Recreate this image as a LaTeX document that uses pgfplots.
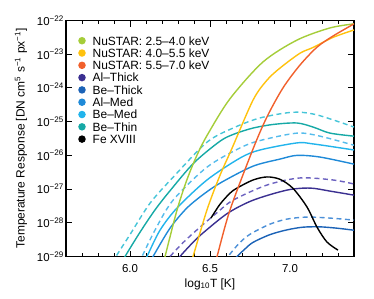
\documentclass[border=0pt]{standalone}
\usepackage{fontspec}
\setmainfont{Liberation Sans}
\usepackage{pgfplots}
\pgfplotsset{compat=1.18}
\definecolor{cA}{HTML}{A5CD39}
\definecolor{cB}{HTML}{FFC20E}
\definecolor{cC}{HTML}{F1602C}
\definecolor{cAlThick}{HTML}{3B3091}
\definecolor{cBeThick}{HTML}{1C63B7}
\definecolor{cAlMed}{HTML}{1F8AD8}
\definecolor{cBeMed}{HTML}{22B4EC}
\definecolor{cBeThin}{HTML}{16A9A6}
\definecolor{dBeThin}{HTML}{45C5D8}
\definecolor{dBeMed}{HTML}{55BCEC}
\definecolor{dAlThick}{HTML}{6C62C0}
\definecolor{dBeThick}{HTML}{4C90D8}
\begin{document}
\begin{tikzpicture}
\path[use as bounding box] (-66bp,-42.5bp) rectangle (308bp,256.5bp);
\begin{axis}[
  at={(0,0)}, anchor=south west,
  scale only axis, width=288bp, height=236bp,
  xmin=5.6, xmax=7.4, ymin=1e-29, ymax=1e-22,
  ymode=log,
  axis line style={line width=1.3bp},
  xtick={6.0,6.5,7.0}, xticklabels={6.0,6.5,7.0},
  minor xtick={5.7,5.8,5.9,6.1,6.2,6.3,6.4,6.6,6.7,6.8,6.9,7.1,7.2,7.3},
  ytick={1e-29,1e-28,1e-27,1e-26,1e-25,1e-24,1e-23,1e-22},
  yticklabels={10\textsuperscript{−29},10\textsuperscript{−28},10\textsuperscript{−27},10\textsuperscript{−26},10\textsuperscript{−25},10\textsuperscript{−24},10\textsuperscript{−23},10\textsuperscript{−22}},
  yminorticks=false,
  tick align=inside,
  major tick length=6bp, minor tick length=3.5bp,
  every tick/.style={black, line width=0.9bp},
  ticklabel style={font=\fontsize{11.5}{13}\selectfont},
  xticklabel shift=4.5bp,
  yticklabel shift=-1.3bp,
  every axis x label/.style={at={(axis description cs:0.5,-0.1165)}, anchor=center, font=\fontsize{12}{14}\selectfont},
  every axis y label/.style={at={(axis description cs:-0.15625,0.5)}, rotate=90, anchor=center, font=\fontsize{12}{14}\selectfont},
  xlabel={log\textsubscript{10}T [K]},
  ylabel={Temperature Response [DN cm\textsuperscript{5} s\textsuperscript{−1} px\textsuperscript{−1}]},
  legend style={draw=none, fill=none, at={(0,1)}, anchor=north west, xshift=12.3bp, yshift=-15.9bp,
    inner sep=0pt, outer sep=0pt, row sep=1.3bp, column sep=7bp,
    font=\fontsize{12}{12}\selectfont,
    nodes={inner sep=0pt, text height=8.6bp, text depth=2.4bp}},
  legend cell align=left,
  every axis plot/.append style={line width=1.4bp},
]
\addlegendimage{legend image code/.code={\fill[cA] (3bp,1.2bp) circle (3bp);}}
\addlegendentry{NuSTAR: 2.5--4.0 keV}
\addlegendimage{legend image code/.code={\fill[cB] (3bp,1.2bp) circle (3bp);}}
\addlegendentry{NuSTAR: 4.0--5.5 keV}
\addlegendimage{legend image code/.code={\fill[cC] (3bp,1.2bp) circle (3bp);}}
\addlegendentry{NuSTAR: 5.5--7.0 keV}
\addlegendimage{legend image code/.code={\fill[cAlThick] (3bp,1.2bp) circle (3bp);}}
\addlegendentry{Al--Thick}
\addlegendimage{legend image code/.code={\fill[cBeThick] (3bp,1.2bp) circle (3bp);}}
\addlegendentry{Be--Thick}
\addlegendimage{legend image code/.code={\fill[cAlMed] (3bp,1.2bp) circle (3bp);}}
\addlegendentry{Al--Med}
\addlegendimage{legend image code/.code={\fill[cBeMed] (3bp,1.2bp) circle (3bp);}}
\addlegendentry{Be--Med}
\addlegendimage{legend image code/.code={\fill[cBeThin] (3bp,1.2bp) circle (3bp);}}
\addlegendentry{Be--Thin}
\addlegendimage{legend image code/.code={\fill[black] (3bp,1.2bp) circle (3bp);}}
\addlegendentry{Fe XVIII}

% Be-Thin dashed
\addplot[dBeThin, smooth, dash pattern=on 5bp off 3.5bp, forget plot] coordinates {
(5.895,6.310e-30) (5.9125,1e-29) (6.0,4.467e-29) (6.125,3.802e-28) (6.269,2.239e-27)
(6.481,2.455e-26) (6.644,6.457e-26) (6.8125,1.288e-25) (7.019,1.905e-25) (7.169,1.585e-25) (7.40,6.918e-26)};
% Be-Thin solid
\addplot[cBeThin, smooth, forget plot] coordinates {
(5.95,6.310e-30) (5.969,1e-29) (6.0625,5.248e-29) (6.156,2.399e-28) (6.25,8.913e-28)
(6.40,6.026e-27) (6.5625,2.630e-26) (6.65,4.266e-26) (6.769,6.457e-26) (6.90,8.318e-26)
(7.044,9.120e-26) (7.144,6.918e-26) (7.25,4.571e-26) (7.40,3.715e-26)};
% Be-Med dashed
\addplot[dBeMed, smooth, dash pattern=on 5bp off 3.5bp, forget plot] coordinates {
(6.055,6.310e-30) (6.075,1e-29) (6.156,6.026e-29) (6.269,4.677e-28) (6.481,4.467e-27)
(6.6875,1.660e-26) (6.8125,2.754e-26) (7.044,4.571e-26) (7.1875,3.715e-26) (7.40,1.995e-26)};
% Be-Med solid
\addplot[cBeMed, smooth, forget plot] coordinates {
(6.085,6.310e-30) (6.106,1e-29) (6.1875,6.026e-29) (6.294,2.754e-28) (6.481,1.862e-27)
(6.6875,8.318e-27) (6.8125,1.445e-26) (7.044,2.344e-26) (7.144,2.188e-26) (7.40,1.445e-26)};
% Al-Med solid
\addplot[cAlMed, smooth, forget plot] coordinates {
(6.12,6.026e-30) (6.144,1e-29) (6.25,6.918e-29) (6.356,2.754e-28) (6.469,7.586e-28)
(6.575,1.622e-27) (6.769,4.786e-27) (6.9375,7.762e-27) (7.044,1.0e-26) (7.1875,8.913e-27) (7.40,5.495e-27)};
% Al-Thick dashed
\addplot[dAlThick, smooth, dash pattern=on 5bp off 3.5bp, forget plot] coordinates {
(6.22,6.310e-30) (6.25,1e-29) (6.34,2.818e-29) (6.4375,7.413e-29) (6.544,1.995e-28)
(6.644,4.677e-28) (6.856,1.318e-27) (7.0625,2.138e-27) (7.269,1.862e-27) (7.40,1.413e-27)};
% Al-Thick solid
\addplot[cAlThick, smooth, forget plot] coordinates {
(6.28,5.623e-30) (6.3125,1e-29) (6.40,2.818e-29) (6.469,5.623e-29) (6.6125,1.950e-28)
(6.769,4.677e-28) (6.981,9.333e-28) (7.125,1.072e-27) (7.25,8.710e-28) (7.40,6.607e-28)};
% Be-Thick dashed
\addplot[dBeThick, smooth, dash pattern=on 5bp off 3.5bp, forget plot] coordinates {
(6.59,7.079e-30) (6.6125,1e-29) (6.68,2.399e-29) (6.75,4.571e-29) (6.875,9.120e-29)
(6.981,1.288e-28) (7.106,1.479e-28) (7.25,1.380e-28) (7.40,1.202e-28)};
% Be-Thick solid
\addplot[cBeThick, smooth, forget plot] coordinates {
(6.64,7.079e-30) (6.669,1e-29) (6.72,1.698e-29) (6.769,2.630e-29) (6.875,4.467e-29)
(6.981,6.166e-29) (7.081,7.413e-29) (7.1875,7.586e-29) (7.294,6.918e-29) (7.40,6.026e-29)};
% Fe XVIII
\addplot[black, smooth, forget plot] coordinates {
(6.506,1.380e-28) (6.5625,3.548e-28) (6.625,7.586e-28) (6.669,1.072e-27) (6.769,1.862e-27)
(6.856,2.291e-27) (6.9375,1.950e-27) (7.019,1.047e-27) (7.106,2.951e-28) (7.169,7.413e-29)
(7.231,2.692e-29) (7.30,1.549e-29)};
% NuSTAR 2.5-4.0
\addplot[cA, smooth, forget plot] coordinates {
(6.20,4.467e-30) (6.219,1e-29) (6.294,2.399e-28) (6.356,1.905e-27) (6.42,1.047e-26)
(6.4875,4.365e-26) (6.625,4.786e-25) (6.831,5.888e-24) (7.044,2.630e-23) (7.25,6.026e-23) (7.40,7.943e-23)};
% NuSTAR 4.0-5.5
\addplot[cB, smooth, forget plot] coordinates {
(6.375,5.012e-30) (6.394,1e-29) (6.481,2.399e-28) (6.56,2.399e-27) (6.6375,1.622e-26)
(6.769,4.365e-25) (6.856,1.698e-24) (6.9375,3.890e-24) (7.0625,1.072e-23) (7.144,1.585e-23)
(7.269,3.162e-23) (7.40,5.248e-23)};
% NuSTAR 5.5-7.0
\addplot[cC, smooth, forget plot] coordinates {
(6.525,4.786e-30) (6.544,1e-29) (6.625,2.399e-28) (6.769,1.549e-26) (6.856,1.380e-25)
(6.956,1.0e-24) (7.0625,4.786e-24) (7.169,1.622e-23) (7.269,3.467e-23) (7.40,7.943e-23)};
\end{axis}
\end{tikzpicture}
\end{document}
